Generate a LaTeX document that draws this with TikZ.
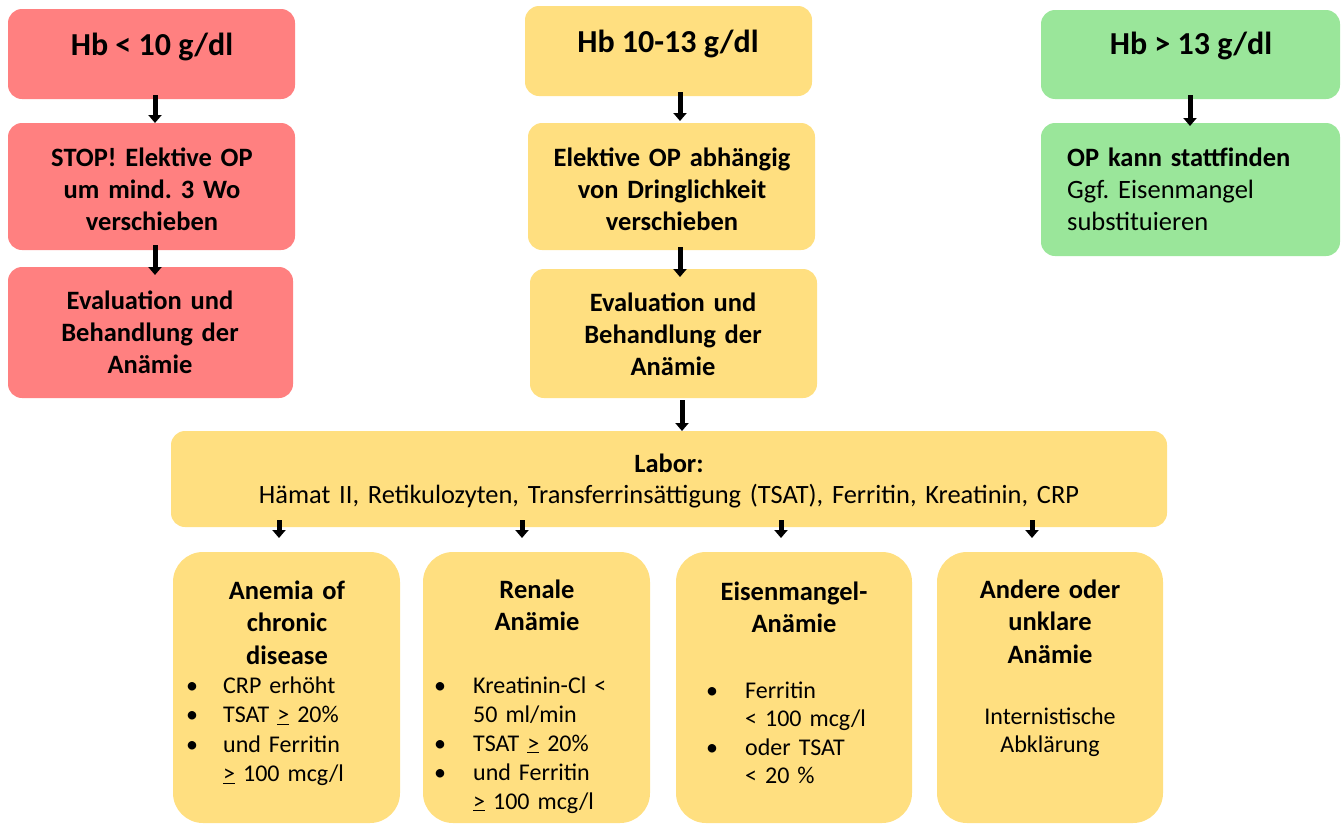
\documentclass[tikz,border=0pt]{standalone}
\usepackage{fontspec}
\setmainfont{Carlito}
\usetikzlibrary{arrows.meta}
\definecolor{cred}{HTML}{FF8080}
\definecolor{cyel}{HTML}{FFDF80}
\definecolor{cgrn}{HTML}{9AE69A}
\frenchspacing
\begin{document}
\begin{tikzpicture}[x=1pt,y=-1pt,
  box/.style={rounded corners=14pt, inner sep=0pt, outer sep=0pt, draw=none},
  bigbox/.style={rounded corners=30pt, inner sep=0pt, outer sep=0pt, draw=none, fill=cyel},
  hdr/.style={font=\fontsize{32}{38}\selectfont\bfseries, inner sep=0pt, anchor=base},
  ctext/.style={font=\fontsize{26.5}{32}\selectfont\bfseries, inner sep=0pt, align=center, text width=280pt, anchor=base},
  ttext/.style={font=\fontsize{26.5}{32.5}\selectfont\bfseries, inner sep=0pt, align=center, text width=220pt, anchor=base},
  ltext/.style={font=\fontsize{24}{29}\selectfont, inner sep=0pt, align=left, text width=210pt, anchor=base west},
  arr/.style={line width=5pt, -{Triangle[width=13pt,length=8pt]}}
]
\useasboundingbox (0,0) rectangle (1344,825);

% top row boxes
\node[box, fill=cred, minimum width=287pt, minimum height=90pt] (r1) at (151.5,54) {};
\node[box, fill=cred, minimum width=287pt, minimum height=127pt] (r2) at (151.5,186.5) {};
\node[box, fill=cred, minimum width=285pt, minimum height=131pt] (r3) at (150.5,332.5) {};

\node[box, fill=cyel, minimum width=287pt, minimum height=90pt] (y1) at (668.5,51) {};
\node[box, fill=cyel, minimum width=287pt, minimum height=127pt] (y2) at (671.5,186.5) {};
\node[box, fill=cyel, minimum width=287pt, minimum height=129pt] (y3) at (673.5,333.5) {};

\node[box, fill=cgrn, minimum width=299pt, minimum height=89pt] (g1) at (1190.5,54.5) {};
\node[box, fill=cgrn, minimum width=299pt, minimum height=133pt] (g2) at (1190.5,189.5) {};

\node[box, fill=cyel, minimum width=996pt, minimum height=96pt] (lab) at (669,479) {};

\node[bigbox, minimum width=227pt, minimum height=271pt] (b1) at (286.5,687.5) {};
\node[bigbox, minimum width=227pt, minimum height=271pt] (b2) at (536.5,687.5) {};
\node[bigbox, minimum width=236pt, minimum height=271pt] (b3) at (794,687.5) {};
\node[bigbox, minimum width=226pt, minimum height=271pt] (b4) at (1050,687.5) {};

% texts
\node[hdr] (tr1) at (152,55) {Hb < 10 g/dl};
\node[hdr] (ty1) at (668,52) {Hb 10-13 g/dl};
\node[hdr] (tg1) at (1191,54) {Hb > 13 g/dl};

\node[ctext] (tr2) at (152,166) {STOP! Elektive OP\\um mind. 3 Wo\\verschieben};
\node[ctext] (tr3) at (150,309) {Evaluation und\\Behandlung der\\Anämie};
\node[ctext] (ty2) at (672,166) {Elektive OP abhängig\\von Dringlichkeit\\verschieben};
\node[ctext] (ty3) at (673,311) {Evaluation und\\Behandlung der\\Anämie};
\node[ltext, font=\fontsize{26.5}{32}\selectfont, text width=270pt] (tg2) at (1067,166)
  {\textbf{OP kann stattfinden}\\Ggf. Eisenmangel\\substituieren};

\node[font=\fontsize{26.4}{31}\selectfont, inner sep=0pt, align=center, text width=960pt, anchor=base] (tlab) at (669,472)
  {\textbf{Labor:}\\Hämat II, Retikulozyten, Transferrinsättigung (TSAT), Ferritin, Kreatinin, CRP};

\node[ttext] (tb1) at (287,599) {Anemia of\\chronic\\disease};
\node[ttext] (tb2) at (537,598) {Renale\\Anämie};
\node[ttext] (tb3) at (794,600) {Eisenmangel-\\Anämie};
\node[ttext] (tb4) at (1050,598) {Andere oder\\unklare\\Anämie};

\node[ltext, font=\fontsize{24}{29.5}\selectfont] (lb1) at (186,693)
  {\makebox[37pt][l]{•}CRP erhöht\\\makebox[37pt][l]{•}TSAT \underline{>} 20\%\\\makebox[37pt][l]{•}und Ferritin\\\hspace*{37pt}\underline{>} 100 mcg/l};
\node[ltext, font=\fontsize{24}{29}\selectfont] (lb2) at (434,693)
  {\makebox[39pt][l]{•}Kreatinin-Cl <\\\hspace*{39pt}50 ml/min\\\makebox[39pt][l]{•}TSAT \underline{>} 20\%\\\makebox[39pt][l]{•}und Ferritin\\\hspace*{39pt}\underline{>} 100 mcg/l};
\node[ltext, font=\fontsize{24}{28.5}\selectfont] (lb3) at (706,698)
  {\makebox[39pt][l]{•}Ferritin\\\hspace*{39pt}< 100 mcg/l\\\makebox[39pt][l]{•}oder TSAT\\\hspace*{39pt}< 20 \%};
\node[font=\fontsize{24}{28.5}\selectfont, inner sep=0pt, align=center, text width=210pt, anchor=base] (lb4) at (1050,724)
  {Internistische\\Abklärung};

% arrows
\draw[arr] ([xshift=3.5pt,yshift=4pt]r1.south) -- ([xshift=3.5pt]r2.north);
\draw[arr] ([xshift=3.5pt,yshift=5pt]r2.south) -- ([xshift=4.5pt,yshift=-8pt]r3.north);
\draw[arr] ([xshift=11.5pt,yshift=4pt]y1.south) -- ([xshift=8.5pt,yshift=2pt]y2.north);
\draw[arr] ([xshift=8.5pt,yshift=3pt]y2.south) -- ([xshift=6.5pt,yshift=-8pt]y3.north);
\draw[arr] ([xshift=8.5pt,yshift=-2pt]y3.south) -- ([xshift=13pt]lab.north);
\draw[arr] ([xshift=-0.5pt,yshift=4pt]g1.south) -- ([xshift=-0.5pt,yshift=-3pt]g2.north);

\coordinate (e1) at (279,538);
\coordinate (e2) at (522,538);
\coordinate (e3) at (781,538);
\coordinate (e4) at (1032,538);
\foreach \e in {e1,e2,e3,e4}
  \draw[arr] ([yshift=7pt]lab.south -| \e) -- (\e);
\end{tikzpicture}
\end{document}
